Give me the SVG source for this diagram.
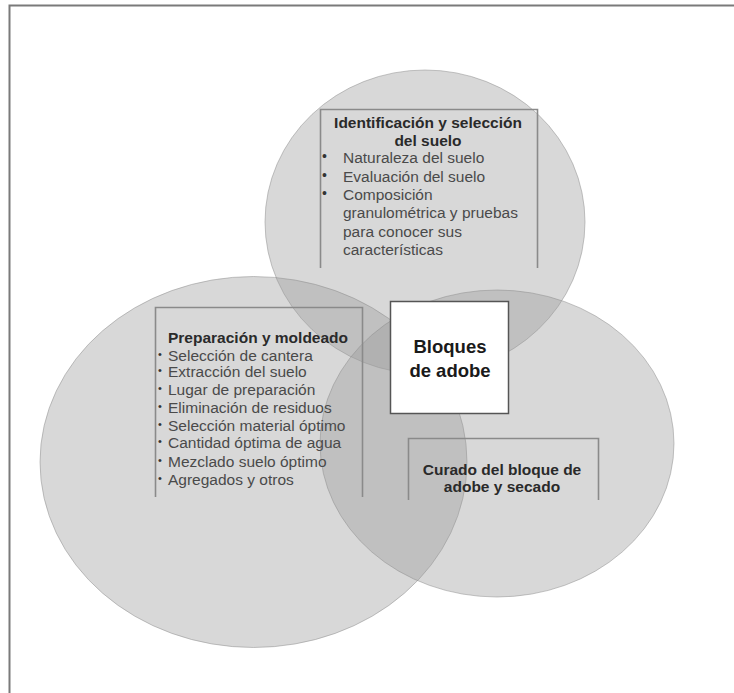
<svg xmlns="http://www.w3.org/2000/svg" width="734" height="693" viewBox="0 0 734 693">
  <style>
    .disc { fill: #9a9a9a; fill-opacity: 0.39; stroke: #8c8c8c; stroke-opacity: 0.5; stroke-width: 1; }
    .frame { fill: none; stroke: #8a8a8a; stroke-width: 1.6; }
    .title { font-family: "Liberation Sans", Arial, sans-serif; font-weight: bold; font-size: 15.5px; fill: #2a2a2a; }
    .item { font-family: "Liberation Sans", Arial, sans-serif; font-size: 15.5px; fill: #4a4a4a; }
    .dot { font-family: "Liberation Sans", Arial, sans-serif; font-size: 11px; fill: #333; }
    .bigdot { font-family: "Liberation Sans", Arial, sans-serif; font-size: 14px; fill: #333; }
    .core { font-family: "Liberation Sans", Arial, sans-serif; font-weight: bold; font-size: 18.5px; fill: #1a1a1a; }
  </style>

  <!-- outer frame (top and left edges) -->
  <path d="M9.5 693 V5.5 H734" fill="none" stroke="#7a7a7a" stroke-width="2"/>

  <!-- soil identification -->
  <g id="identificacion">
    <ellipse class="disc" cx="425" cy="222" rx="160" ry="152"/>
  </g>
  <!-- preparation and moulding -->
  <g id="preparacion">
    <ellipse class="disc" cx="253.5" cy="462" rx="213.5" ry="185.5"/>
  </g>
  <!-- curing and drying -->
  <g id="curado">
    <ellipse class="disc" cx="497" cy="443.5" rx="177" ry="153.5"/>
  </g>

  <g id="identificacion-text">
    <path class="frame" d="M320.5 268 V109.5 H537.5 V268"/>
    <text class="title" x="428" y="128" text-anchor="middle">Identificación y selección</text>
    <text class="title" x="428" y="146" text-anchor="middle">del suelo</text>
    <text class="bigdot" x="322" y="161">•</text>
    <text class="bigdot" x="322" y="180">•</text>
    <text class="bigdot" x="322" y="198">•</text>
    <text class="item" x="343" y="163">Naturaleza del suelo</text>
    <text class="item" x="343" y="182">Evaluación del suelo</text>
    <text class="item" x="343" y="200">Composición</text>
    <text class="item" x="343" y="218">granulométrica y pruebas</text>
    <text class="item" x="343" y="237">para conocer sus</text>
    <text class="item" x="343" y="255">características</text>
  </g>

  <g id="preparacion-text">
    <path class="frame" d="M155.5 497 V307.5 H362.5 V497"/>
    <text class="title" x="168" y="343">Preparación y moldeado</text>
    <g class="dot">
      <text x="158" y="358">•</text>
      <text x="158" y="374">•</text>
      <text x="158" y="392">•</text>
      <text x="158" y="410">•</text>
      <text x="158" y="428">•</text>
      <text x="158" y="445">•</text>
      <text x="158" y="464">•</text>
      <text x="158" y="482">•</text>
    </g>
    <text class="item" x="168" y="361">Selección de cantera</text>
    <text class="item" x="168" y="377">Extracción del suelo</text>
    <text class="item" x="168" y="395">Lugar de preparación</text>
    <text class="item" x="168" y="413">Eliminación de residuos</text>
    <text class="item" x="168" y="431">Selección material óptimo</text>
    <text class="item" x="168" y="448">Cantidad óptima de agua</text>
    <text class="item" x="168" y="467">Mezclado suelo óptimo</text>
    <text class="item" x="168" y="485">Agregados y otros</text>
  </g>

  <g id="curado-text">
    <path class="frame" d="M408.5 500 V438.5 H598.5 V500"/>
    <text class="title" x="502" y="475" text-anchor="middle">Curado del bloque de</text>
    <text class="title" x="502" y="492" text-anchor="middle">adobe y secado</text>
  </g>

  <g id="bloques">
    <rect x="390.5" y="301.5" width="118" height="112" fill="#ffffff" stroke="#555" stroke-width="1.5"/>
    <text class="core" x="450" y="353" text-anchor="middle">Bloques</text>
    <text class="core" x="450" y="377" text-anchor="middle">de adobe</text>
  </g>
</svg>
